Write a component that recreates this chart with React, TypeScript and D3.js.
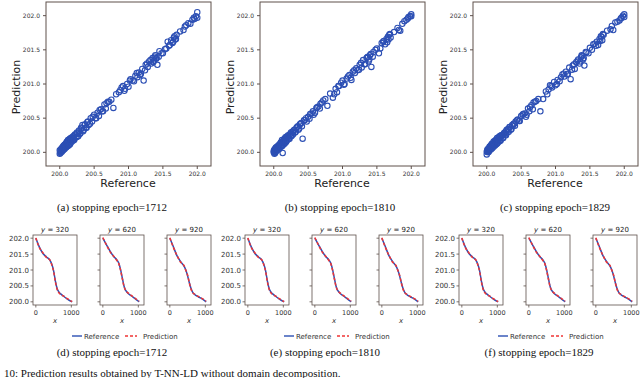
import * as d3 from "d3"

// scatter: reference values (shared) and predictions for three runs
const refs = [200.00, 200.01, 200.01, 200.02, 200.02, 200.03, 200.03, 200.04, 200.04, 200.05, 200.05, 200.06, 200.06, 200.07, 200.07, 200.08, 200.08, 200.09, 200.10, 200.10, 200.11, 200.12, 200.12, 200.13, 200.14, 200.15, 200.15, 200.16, 200.17, 200.18, 200.19, 200.20, 200.21, 200.22, 200.24, 200.25, 200.27, 200.28, 200.30, 200.31, 200.33, 200.35, 200.37, 200.38, 200.40, 200.42, 200.45, 200.47, 200.50, 200.52, 200.55, 200.57, 200.60, 200.62, 200.65, 200.68, 200.72, 200.75, 200.78, 200.82, 200.86, 200.90, 200.92, 200.95, 200.98, 201.00, 201.03, 201.06, 201.10, 201.13, 201.15, 201.18, 201.20, 201.22, 201.25, 201.28, 201.30, 201.33, 201.35, 201.37, 201.38, 201.40, 201.42, 201.45, 201.50, 201.53, 201.57, 201.60, 201.62, 201.64, 201.66, 201.68, 201.70, 201.75, 201.80, 201.84, 201.87, 201.90, 201.93, 201.95, 201.98, 202.00, 202.00,
  200.00, 200.01, 200.02, 200.03, 200.04, 200.05, 200.06, 200.07, 200.08, 200.09, 200.10, 200.11, 200.12, 200.13, 200.14, 200.15, 200.16, 200.17, 200.18, 200.19, 200.20, 200.21, 200.23, 200.25, 200.26, 200.28, 200.29, 200.32, 200.34, 200.36, 200.39, 200.41, 200.44, 200.48, 200.53, 200.58, 200.63, 200.67, 200.70, 200.88, 200.94, 201.02, 201.08, 201.12, 201.17, 201.24, 201.27, 201.32, 201.36, 201.39, 201.41, 201.44, 201.48, 201.55, 201.59, 201.65, 201.67, 201.69, 201.82, 201.96]

const predA = [199.98, 200.02, 199.99, 200.04, 200.01, 200.06, 200.02, 200.07, 200.03, 200.09, 200.04, 200.10, 200.05, 200.11, 200.06, 200.12, 200.07, 200.13, 200.15, 200.08, 200.16, 200.14, 200.18, 200.11, 200.19, 200.20, 200.13, 200.21, 200.18, 200.22, 200.20, 200.24, 200.19, 200.26, 200.22, 200.29, 200.24, 200.32, 200.28, 200.36, 200.40, 200.33, 200.41, 200.36, 200.44, 200.40, 200.50, 200.45, 200.55, 200.50, 200.58, 200.53, 200.63, 200.60, 200.70, 200.72, 200.74, 200.77, 200.65, 200.85, 200.88, 200.95, 200.97, 200.93, 201.00, 200.96, 201.07, 201.05, 201.12, 201.10, 201.17, 201.15, 201.22, 201.05, 201.28, 201.25, 201.33, 201.30, 201.38, 201.34, 201.40, 201.37, 201.28, 201.48, 201.45, 201.51, 201.62, 201.57, 201.64, 201.60, 201.68, 201.65, 201.72, 201.77, 201.79, 201.86, 201.89, 201.88, 201.94, 201.97, 201.99, 202.05, 201.97,
  200.03, 200.00, 200.05, 200.01, 200.07, 200.03, 200.09, 200.05, 200.10, 200.07, 200.13, 200.09, 200.15, 200.10, 200.17, 200.12, 200.19, 200.15, 200.21, 200.17, 200.23, 200.18, 200.26, 200.28, 200.23, 200.31, 200.27, 200.35, 200.31, 200.40, 200.36, 200.45, 200.42, 200.52, 200.50, 200.62, 200.60, 200.64, 200.74, 200.91, 200.90, 201.05, 201.04, 201.16, 201.13, 201.20, 201.30, 201.35, 201.32, 201.42, 201.38, 201.40, 201.45, 201.52, 201.56, 201.62, 201.70, 201.66, 201.84, 201.95]

const predB = [200.00, 200.03, 199.98, 200.05, 200.00, 200.04, 200.07, 200.03, 200.06, 200.08, 200.05, 200.09, 200.04, 200.10, 200.08, 200.11, 200.06, 200.12, 200.14, 200.09, 200.15, 200.18, 200.10, 199.99, 200.17, 200.19, 200.14, 200.20, 200.22, 200.17, 200.23, 200.21, 200.25, 200.20, 200.27, 200.24, 200.30, 200.26, 200.33, 200.29, 200.36, 200.38, 200.35, 200.41, 200.43, 200.20, 200.47, 200.50, 200.52, 200.49, 200.57, 200.60, 200.58, 200.65, 200.67, 200.71, 200.76, 200.78, 200.68, 200.86, 200.80, 200.93, 200.88, 200.97, 201.02, 201.05, 201.00, 201.08, 201.13, 201.06, 201.18, 201.16, 201.23, 201.20, 201.28, 201.24, 201.35, 201.29, 201.38, 201.40, 201.33, 201.42, 201.25, 201.47, 201.52, 201.45, 201.60, 201.63, 201.58, 201.66, 201.69, 201.72, 201.68, 201.76, 201.82, 201.78, 201.88, 201.92, 201.94, 201.96, 201.99, 202.02, 201.99,
  200.02, 200.04, 199.99, 200.06, 200.02, 200.08, 200.04, 200.10, 200.05, 200.12, 200.08, 200.14, 200.09, 200.16, 200.11, 200.18, 200.13, 200.20, 200.15, 200.22, 200.18, 200.24, 200.20, 200.29, 200.24, 200.30, 200.32, 200.30, 200.37, 200.33, 200.42, 200.38, 200.47, 200.45, 200.56, 200.55, 200.66, 200.64, 200.73, 200.85, 200.97, 200.99, 201.11, 201.09, 201.20, 201.21, 201.31, 201.29, 201.39, 201.36, 201.44, 201.40, 201.50, 201.52, 201.62, 201.61, 201.65, 201.73, 201.79, 201.98]

const predC = [199.97, 200.01, 200.03, 200.02, 200.05, 200.04, 200.01, 200.08, 200.05, 200.06, 200.09, 200.07, 200.10, 200.08, 200.12, 200.09, 200.13, 200.11, 200.12, 200.16, 200.14, 200.17, 200.11, 200.18, 200.15, 200.21, 200.13, 200.19, 200.22, 200.20, 200.24, 200.18, 200.23, 200.25, 200.21, 200.28, 200.26, 200.31, 200.29, 200.34, 200.37, 200.33, 200.40, 200.39, 200.42, 200.45, 200.48, 200.46, 200.53, 200.55, 200.57, 200.52, 200.64, 200.60, 200.69, 200.73, 200.75, 200.78, 200.60, 200.78, 200.89, 200.92, 200.98, 200.95, 201.03, 200.98, 201.06, 201.04, 201.14, 201.11, 201.18, 201.15, 201.24, 201.07, 201.27, 201.22, 201.32, 201.36, 201.30, 201.39, 201.42, 201.36, 201.27, 201.46, 201.53, 201.50, 201.59, 201.62, 201.57, 201.66, 201.70, 201.64, 201.72, 201.78, 201.80, 201.79, 201.90, 201.91, 201.93, 201.96, 202.00, 202.02, 201.98,
  200.01, 200.04, 200.00, 200.06, 200.03, 200.08, 200.04, 200.10, 200.06, 200.12, 200.08, 200.14, 200.10, 200.16, 200.12, 200.18, 200.14, 200.20, 200.16, 200.22, 200.17, 200.25, 200.21, 200.27, 200.29, 200.25, 200.33, 200.30, 200.37, 200.34, 200.42, 200.39, 200.47, 200.46, 200.56, 200.55, 200.66, 200.63, 200.74, 200.85, 200.97, 201.00, 201.10, 201.15, 201.14, 201.21, 201.29, 201.34, 201.33, 201.41, 201.38, 201.47, 201.45, 201.58, 201.56, 201.63, 201.69, 201.73, 201.85, 201.97]

const scatterTicks = [200.0, 200.5, 201.0, 201.5, 202.0]

// line profiles at y = 320, 620, 920
const profileX = [0, 100, 200, 300, 400, 450, 500, 550, 600, 650, 700, 800, 900, 1023]
const sliceLabels = ["320", "620", "920"]
const refCurves = [
  [202.0, 201.72, 201.52, 201.41, 201.3, 201.18, 200.98, 200.66, 200.42, 200.31, 200.25, 200.16, 200.08, 200.0],
  [202.0, 201.8, 201.6, 201.43, 201.31, 201.21, 201.01, 200.74, 200.48, 200.35, 200.28, 200.19, 200.11, 200.0],
  [202.0, 201.73, 201.45, 201.27, 201.12, 201.0, 200.82, 200.6, 200.41, 200.29, 200.23, 200.16, 200.1, 200.0],
]
const predCurves = [
  [202.01, 201.7, 201.54, 201.39, 201.31, 201.16, 200.96, 200.63, 200.39, 200.28, 200.23, 200.17, 200.09, 200.01],
  [202.02, 201.79, 201.58, 201.44, 201.29, 201.2, 200.99, 200.72, 200.47, 200.34, 200.29, 200.2, 200.12, 200.02],
  [202.01, 201.71, 201.46, 201.25, 201.14, 200.99, 200.84, 200.59, 200.39, 200.28, 200.24, 200.17, 200.11, 200.02],
]
const lineYTicks = [200.0, 200.5, 201.0, 201.5, 202.0]
const lineXTicks = [0, 1000]

const scatterCaptions = ["(a)  stopping epoch=1712", "(b)  stopping epoch=1810", "(c)  stopping epoch=1829"]
const lineCaptions = ["(d)  stopping epoch=1712", "(e)  stopping epoch=1810", "(f)  stopping epoch=1829"]

const frame = "#5e504b"
const blue = "#2c4fb4"
const red = "#f03434"
const sans = "'DejaVu Sans', sans-serif"
const serif = "'Liberation Serif', 'Times New Roman', serif"

function Scatter({ left, preds, caption, capX }) {
  const w = 165
  const top = 2
  const h = 164
  const x = d3.scaleLinear().domain([199.8, 202.2]).range([left, left + w])
  const y = d3.scaleLinear().domain([199.8, 202.2]).range([top + h, top])
  return (
    <g>
      <rect x={left} y={top} width={w} height={h} fill="none" stroke={frame} strokeWidth={1} />
      {refs.map((r, i) => (
        <circle key={i} cx={x(r)} cy={y(preds[i])} r={2.7} fill="none" stroke={blue} strokeWidth={1.1} />
      ))}
      {scatterTicks.map((t) => (
        <g key={t}>
          <line x1={x(t)} x2={x(t)} y1={top + h} y2={top + h + 3} stroke={frame} />
          <text x={x(t)} y={top + h + 10} fontSize={6} textAnchor="middle" fill="#333" fontFamily={sans}>{t.toFixed(1)}</text>
          <line x1={left - 3} x2={left} y1={y(t)} y2={y(t)} stroke={frame} />
          <text x={left - 6} y={y(t) + 2} fontSize={6} textAnchor="end" fill="#333" fontFamily={sans}>{t.toFixed(1)}</text>
        </g>
      ))}
      <text x={left + 82} y={187} fontSize={11} textAnchor="middle" fill="#222" fontFamily={sans}>Reference</text>
      <text transform={`translate(${left - 26},${top + h / 2 + 3}) rotate(-90)`} fontSize={11} textAnchor="middle" fill="#222" fontFamily={sans}>Prediction</text>
      <text x={capX} y={211} fontSize={11} textAnchor="middle" fill="#111" fontFamily={serif}>{caption}</text>
    </g>
  )
}

function LineGroup({ left, caption, capX }) {
  const w = 44
  const top = 235
  const h = 70
  const y = d3.scaleLinear().domain([199.9, 202.1]).range([top + h, top])
  return (
    <g>
      {sliceLabels.map((lab, k) => {
        const l = left + k * 67
        const x = d3.scaleLinear().domain([-80, 1160]).range([l, l + w])
        const line = d3.line().x((d) => x(d[0])).y((d) => y(d[1])).curve(d3.curveMonotoneX)
        const refPts = profileX.map((v, i) => [v, refCurves[k][i]])
        const predPts = profileX.map((v, i) => [v, predCurves[k][i]])
        return (
          <g key={lab}>
            <rect x={l} y={top} width={w} height={h} fill="none" stroke={frame} strokeWidth={0.8} />
            <path d={line(refPts)} fill="none" stroke={blue} strokeWidth={1.5} />
            <path d={line(predPts)} fill="none" stroke={red} strokeWidth={1.5} strokeDasharray="3,2" />
            {lineYTicks.map((t) => (
              <g key={t}>
                <line x1={l - 2.5} x2={l} y1={y(t)} y2={y(t)} stroke={frame} strokeWidth={0.8} />
                {k === 0 && (
                  <text x={l - 4} y={y(t) + 2.5} fontSize={7} textAnchor="end" fill="#333" fontFamily={sans}>{t.toFixed(1)}</text>
                )}
              </g>
            ))}
            {lineXTicks.map((t) => (
              <g key={t}>
                <line x1={x(t)} x2={x(t)} y1={top + h} y2={top + h + 2.5} stroke={frame} strokeWidth={0.8} />
                <text x={x(t)} y={top + h + 10} fontSize={6.5} textAnchor="middle" fill="#333" fontFamily={sans}>{t}</text>
              </g>
            ))}
            <text x={l + w / 2} y={top + h + 18} fontSize={7} textAnchor="middle" fill="#333" fontFamily={sans} fontStyle="italic">x</text>
            <text x={l + w / 2} y={top - 3} fontSize={7} textAnchor="middle" fill="#222" fontFamily={sans}>
              <tspan fontStyle="italic">y</tspan> = {lab}
            </text>
          </g>
        )
      })}
      <line x1={left + 39} x2={left + 49} y1={336} y2={336} stroke={blue} strokeWidth={1.4} />
      <text x={left + 51} y={338.5} fontSize={7} fill="#333" fontFamily={sans}>Reference</text>
      <line x1={left + 92} x2={left + 104} y1={336} y2={336} stroke={red} strokeWidth={1.4} strokeDasharray="3,2" />
      <text x={left + 110} y={338.5} fontSize={7} fill="#333" fontFamily={sans}>Prediction</text>
      <text x={capX} y={356} fontSize={11} textAnchor="middle" fill="#111" fontFamily={serif}>{caption}</text>
    </g>
  )
}

export default function App() {
  return (
    <div style={{ position: "absolute", left: 0, top: 0 }}>
      <svg width={640} height={378} style={{ display: "block", background: "#fff" }}>
        <Scatter left={46} preds={predA} caption={scatterCaptions[0]} capX={112} />
        <Scatter left={260} preds={predB} caption={scatterCaptions[1]} capX={340} />
        <Scatter left={473} preds={predC} caption={scatterCaptions[2]} capX={555} />
        <LineGroup left={33} caption={lineCaptions[0]} capX={112} />
        <LineGroup left={245} caption={lineCaptions[1]} capX={325} />
        <LineGroup left={459} caption={lineCaptions[2]} capX={539} />
        <text x={4} y={377} fontSize={11} fill="#111" fontFamily={serif}>10:  Prediction results obtained by T-NN-LD without domain decomposition.</text>
      </svg>
    </div>
  )
}
